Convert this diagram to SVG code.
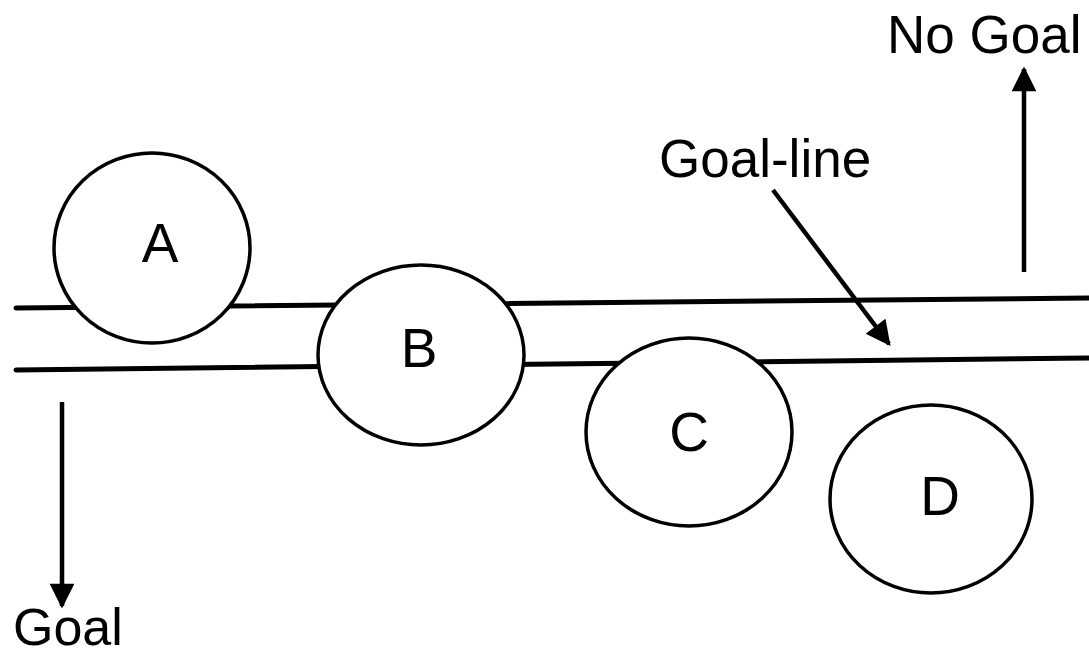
<svg xmlns="http://www.w3.org/2000/svg" width="1089" height="657" viewBox="0 0 1089 657">
<defs>
<style>
.ln{stroke:#000;stroke-width:5;fill:none;stroke-linecap:round}
.ar{stroke:#000;stroke-width:4.5;fill:none}
.ball{fill:#fff;stroke:#000;stroke-width:3.5}
.lbl{font-family:"Liberation Sans",Arial,sans-serif;font-size:55px;fill:#000;text-anchor:middle}
.txt{font-family:"Liberation Sans",Arial,sans-serif;font-size:53px;fill:#000}
</style>
<marker id="ah" viewBox="0 0 10 10" refX="9" refY="5" markerWidth="6" markerHeight="5.5" orient="auto" markerUnits="strokeWidth">
<path d="M0,0 L10,5 L0,10 z" fill="#000"/>
</marker>
</defs>
<rect width="1089" height="657" fill="#fff"/>
<g id="goal-lines">
<line class="ln" x1="16" y1="308" x2="1089" y2="298"/>
<line class="ln" x1="16" y1="370" x2="1089" y2="358"/>
</g>
<g id="A"><ellipse class="ball" cx="152" cy="248" rx="98" ry="95"/><text class="lbl" x="160" y="262">A</text></g>
<g id="B"><ellipse class="ball" cx="421" cy="355" rx="103" ry="90"/><text class="lbl" x="419" y="367">B</text></g>
<g id="C"><ellipse class="ball" cx="689" cy="432" rx="103" ry="94"/><text class="lbl" x="689" y="451">C</text></g>
<g id="D"><ellipse class="ball" cx="931" cy="499" rx="101" ry="94"/><text class="lbl" x="940" y="515">D</text></g>
<g id="connectors">
<line class="ar" x1="1024" y1="272" x2="1024" y2="69" marker-end="url(#ah)"/>
<line class="ar" x1="62" y1="402" x2="62" y2="606" marker-end="url(#ah)"/>
<line class="ar" x1="773" y1="190" x2="889" y2="344" marker-end="url(#ah)"/>
</g>
<g id="labels">
<text class="txt" x="887" y="53">No Goal</text>
<text class="txt" x="659" y="177">Goal-line</text>
<text class="txt" x="13" y="645" style="font-size:52px">Goal</text>
</g>
</svg>
